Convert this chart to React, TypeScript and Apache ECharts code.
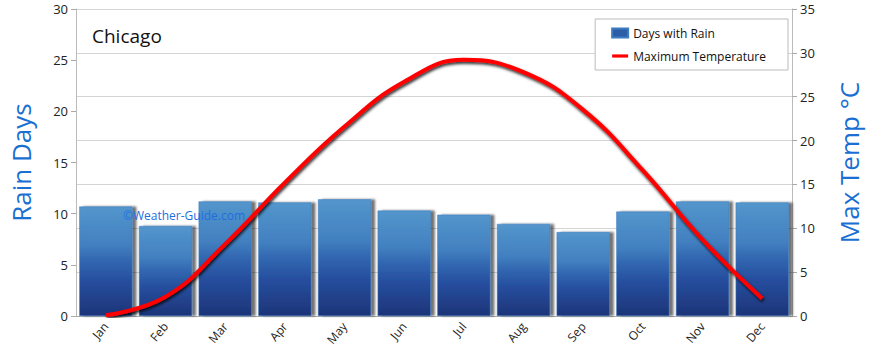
import React, { useEffect, useRef } from "react";
import * as echarts from "echarts";

const months = ["Jan", "Feb", "Mar", "Apr", "May", "Jun", "Jul", "Aug", "Sep", "Oct", "Nov", "Dec"];
const rainDays = [10.7, 8.8, 11.2, 11.1, 11.4, 10.3, 9.9, 9.0, 8.2, 10.2, 11.2, 11.1];
const maxTemp = [0.1, 2.2, 8.2, 15.2, 21.6, 26.7, 29.2, 27.8, 23.5, 16.6, 8.7, 2.0];

const FONT = "'Open Sans', 'DejaVu Sans', sans-serif";

export default function App() {
  const ref = useRef<HTMLDivElement>(null);
  useEffect(() => {
    if (!ref.current) return;
    const chart = echarts.init(ref.current, undefined, { renderer: "svg" });
    const barColor = new echarts.graphic.LinearGradient(0, 0, 0, 1, [
      { offset: 0, color: "#5396cc" },
      { offset: 0.35, color: "#4280c0" },
      { offset: 0.5, color: "#3166b0" },
      { offset: 0.68, color: "#264e9e" },
      { offset: 1, color: "#1d3478" },
    ]);
    chart.setOption({
      animation: false,
      backgroundColor: "#ffffff",
      textStyle: { fontFamily: FONT },
      title: {
        text: "Chicago",
        left: 87,
        top: 21,
        textStyle: { fontFamily: FONT, fontSize: 19, fontWeight: "normal", color: "#111" },
      },
      legend: {
        right: 82,
        top: 19,
        orient: "vertical",
        backgroundColor: "#fff",
        borderColor: "#bbb",
        borderWidth: 1,
        borderRadius: 0,
        padding: [8, 22, 8, 16],
        itemGap: 11,
        itemWidth: 16,
        itemHeight: 9,
        textStyle: { fontFamily: FONT, fontSize: 12, color: "#111" },
        data: [
          { name: "Days with Rain", icon: "rect", itemStyle: { color: "#2c5ea8" } },
          {
            name: "Maximum Temperature",
            icon: "path://M0,0 L16,0 L16,3.2 L0,3.2 Z",
            itemStyle: { color: "#ff0000" },
          },
        ],
      },
      grid: { left: 76, right: 74, top: 9, bottom: 41 },
      xAxis: {
        type: "category",
        data: months,
        boundaryGap: true,
        axisLine: { lineStyle: { color: "#aaa" } },
        axisTick: { alignWithLabel: false, length: 5, lineStyle: { color: "#aaa" } },
        axisLabel: { rotate: 50, fontSize: 12, color: "#222", fontFamily: FONT, margin: 8 },
      },
      yAxis: [
        {
          type: "value",
          min: 0,
          max: 30,
          interval: 5,
          name: "Rain Days",
          nameLocation: "middle",
          nameGap: 42,
          nameTextStyle: { fontSize: 26, color: "#1a6fd2", fontFamily: FONT },
          axisLine: { show: true, lineStyle: { color: "#bbb" } },
          axisTick: { show: true, length: 5, lineStyle: { color: "#aaa" } },
          axisLabel: { fontSize: 13, color: "#222", fontFamily: FONT, margin: 8 },
          splitLine: { show: false },
        },
        {
          type: "value",
          min: 0,
          max: 35,
          interval: 5,
          name: "Max Temp °C",
          nameLocation: "middle",
          nameGap: 44,
          nameRotate: 90,
          nameTextStyle: { fontSize: 26, color: "#1a6fd2", fontFamily: FONT },
          axisLine: { show: true, lineStyle: { color: "#bbb" } },
          axisTick: { show: true, length: 5, lineStyle: { color: "#aaa" } },
          axisLabel: { fontSize: 13, color: "#222", fontFamily: FONT, margin: 8 },
          splitLine: { show: true, lineStyle: { color: "#d4d4d4", width: 1 } },
        },
      ],
      series: [
        {
          name: "Days with Rain",
          type: "bar",
          yAxisIndex: 0,
          data: rainDays,
          barCategoryGap: "11%",
          z: 2,
          itemStyle: {
            color: barColor,
            borderColor: "#3d7cc0",
            borderWidth: 0.5,
            shadowColor: "rgba(0,0,0,0.55)",
            shadowBlur: 2,
            shadowOffsetX: 4,
            shadowOffsetY: 0,
          },
        },
        {
          name: "Maximum Temperature",
          type: "line",
          yAxisIndex: 1,
          data: maxTemp,
          smooth: 0.45,
          showSymbol: false,
          symbol: "none",
          z: 20,
          lineStyle: {
            color: "#ff0000",
            width: 4,
            shadowColor: "rgba(0,0,0,0.85)",
            shadowBlur: 3,
            shadowOffsetX: 1,
            shadowOffsetY: 2,
          },
        },
      ],
      graphic: {
        elements: [
          {
            type: "text",
            left: 123,
            top: 209,
            z: 100,
            zlevel: 0,
            style: {
              text: "©Weather-Guide.com",
              fill: "#1f6ee0",
              fontSize: 12,
              fontFamily: FONT,
            },
          },
        ],
      },
    });
    return () => chart.dispose();
  }, []);
  return <div ref={ref} style={{ width: 870, height: 357, position: "absolute", left: 0, top: 0 }} />;
}
